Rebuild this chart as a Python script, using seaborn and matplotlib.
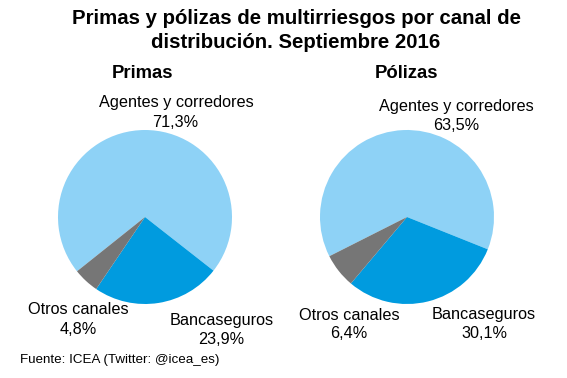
import matplotlib
matplotlib.use("Agg")
import matplotlib.pyplot as plt
import seaborn as sns

categories = ["Agentes y corredores", "Bancaseguros", "Otros canales"]
primas = [71.3, 23.9, 4.8]
polizas = [63.5, 30.1, 6.4]
colors = ["#8ED2F6", "#009BDF", "#767676"]

sns.set_theme(style="white")
plt.rcParams['font.family'] = ['Liberation Sans', 'DejaVu Sans']
plt.rcParams['text.color'] = 'black'

W, H = 567, 378
fig = plt.figure(figsize=(W / 100, H / 100), dpi=100)
fig.patch.set_facecolor("white")

def px(x, y):
    return x / W, 1 - y / H

R = 87
pies = [
    (primas, 145, 217, -141.4, "Primas", 142.5,
     [(176.5, 103, 175, 123), (222, 321, 221, 340), (78.5, 310, 78, 329)]),
    (polizas, 407, 217, -153.2, "Pólizas", 406.5,
     [(456.5, 106, 456, 125), (484, 315, 484, 333), (349, 315, 349, 333)]),
]

for vals, cx, cy, sa, name, tx, labpos in pies:
    l, b = px(cx - R, cy + R)
    ax = fig.add_axes([l, b, 2 * R / W, 2 * R / H])
    ax.pie(vals, colors=colors, startangle=sa, counterclock=False,
           wedgeprops=dict(linewidth=0))
    ax.set_xlim(-1, 1)
    ax.set_ylim(-1, 1)
    ax.set_aspect("equal")
    ax.axis("off")
    fig.text(*px(tx, 73), name, fontsize=13.3, fontweight="bold",
             ha="center", va="center", color="black")
    for cat, v, (lx, ly, vx, vy) in zip(categories, vals, labpos):
        fig.text(*px(lx, ly), cat, fontsize=11.7, ha="center", va="center", color="black")
        fig.text(*px(vx, vy), f"{v:.1f}%".replace(".", ","), fontsize=11.7,
                 ha="center", va="center", color="black")

fig.text(*px(296, 18), "Primas y pólizas de multirriesgos por canal de",
         fontsize=14.7, fontweight="bold", ha="center", va="center", color="black")
fig.text(*px(296, 43), "distribución. Septiembre 2016",
         fontsize=14.7, fontweight="bold", ha="center", va="center", color="black")
fig.text(*px(20, 360), "Fuente: ICEA (Twitter: @icea_es)", fontsize=9.6,
         ha="left", va="center", color="black")

fig.savefig("out.png", dpi=100, facecolor="white")
